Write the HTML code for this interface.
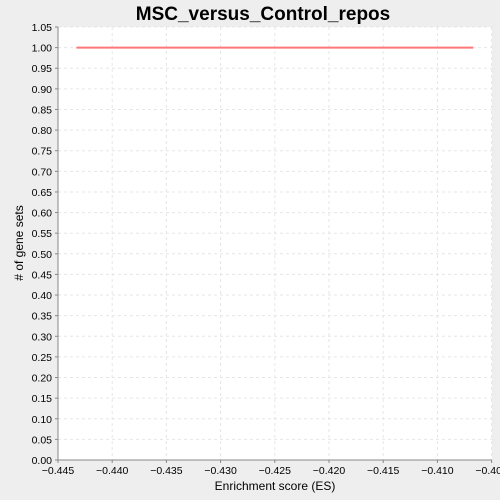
<!DOCTYPE html>
<html><head><style>
body{margin:0;background:#eeeeee;}
svg{display:block;font-family:"Liberation Sans",sans-serif;}
</style></head><body>
<svg id="c" width="500" height="500">
<rect width="500" height="500" fill="#eeeeee"/>
<text x="263" y="20" text-anchor="middle" font-size="19" font-weight="bold" fill="#000">MSC_versus_Control_repos</text>
<rect x="58" y="27" width="434" height="433" fill="#fff"/>
<g id="grid"></g>
<g id="marks"></g>
<line x1="58" y1="27" x2="58" y2="460" stroke="#888"/>
<line x1="58" y1="460" x2="492" y2="460" stroke="#888"/>
<g id="ticks" font-size="10.5" fill="#000"></g>
<text x="275" y="490" text-anchor="middle" font-size="12">Enrichment score (ES)</text>
<text transform="translate(23,243) rotate(-90)" text-anchor="middle" font-size="12"># of gene sets</text>
</svg>
<script>
const xTicks=[-0.445,-0.440,-0.435,-0.430,-0.425,-0.420,-0.415,-0.410,-0.405];
const yTicks=[0,0.05,0.1,0.15,0.2,0.25,0.3,0.35,0.4,0.45,0.5,0.55,0.6,0.65,0.7,0.75,0.8,0.85,0.9,0.95,1.0,1.05];
const seriesX=[-0.4433,-0.4067];
const seriesY=[1,1];
const X=v=>58+(v+0.445)/0.040*433.6;
const Y=v=>460-v/1.05*433;
const ns="http://www.w3.org/2000/svg";
const g=document.getElementById('grid'),t=document.getElementById('ticks'),m=document.getElementById('marks');
function mk(tag,a,p){const e=document.createElementNS(ns,tag);for(const k in a)e.setAttribute(k,a[k]);p.appendChild(e);return e;}
xTicks.forEach(v=>{const x=X(v);
const l=mk('line',{x1:x,y1:27,x2:x,y2:460,stroke:'#e6e6e6','stroke-dasharray':'3,3'},g);


const k=mk('line',{x1:x,y1:460,x2:x,y2:463,stroke:'#888'},t);


const s=mk('text',{x:x,y:474,'text-anchor':'middle'},t);s.textContent=v.toFixed(3).replace('-','\u2212');

});
yTicks.forEach(v=>{const y=Y(v);
const l=mk('line',{x1:58,y1:y,x2:492,y2:y,stroke:'#e6e6e6','stroke-dasharray':'3,3'},g);


const k=mk('line',{x1:55,y1:y,x2:58,y2:y,stroke:'#888'},t);


const s=mk('text',{x:52,y:y+4,'text-anchor':'end'},t);s.textContent=v.toFixed(2);

});
const pts=seriesX.map((x,i)=>X(x)+','+Y(seriesY[i])).join(' ');
const pl=mk('polyline',{points:pts,fill:'none',stroke:'#ff7777','stroke-width':2},m);


</script>
</body></html>
